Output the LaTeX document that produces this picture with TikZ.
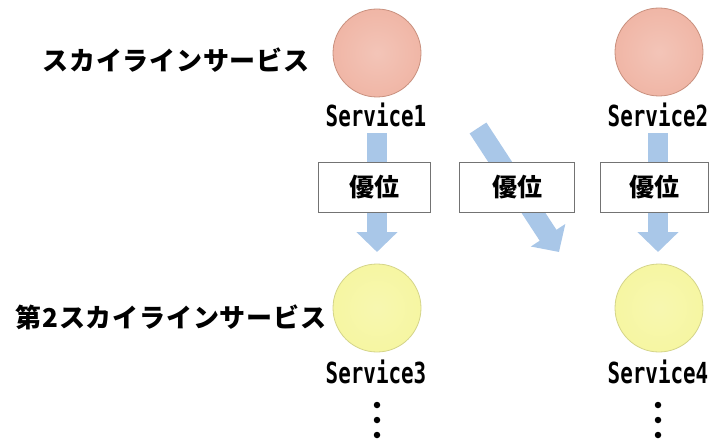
\documentclass[tikz,border=0pt]{standalone}
\usepackage{fontspec}
\newfontfamily\jp{Noto Sans CJK JP}
\newfontfamily\jpsp[LetterSpace=3]{Noto Sans CJK JP}
\newfontfamily\svc[FakeStretch=0.72]{DejaVu Sans Mono}
\usetikzlibrary{arrows.meta}
\definecolor{pinkfill}{HTML}{F0B6A6}
\definecolor{pinkline}{HTML}{C8907E}
\definecolor{yelfill}{HTML}{F6F6A2}
\definecolor{yelline}{HTML}{D4D48A}
\definecolor{arrblue}{HTML}{A9C7E8}
\tikzset{
  svcpink/.style={circle, minimum size=88pt, inner sep=0pt, inner color=pinkfill!80!white, outer color=pinkfill, draw=pinkline, line width=0.8pt},
  svcyel/.style={circle, minimum size=88pt, inner sep=0pt, inner color=yelfill!85!white, outer color=yelfill, draw=yelline, line width=0.8pt},
  svclabel/.style={font=\svc\bfseries\fontsize{29}{29}\selectfont, inner sep=0pt},
  tierlabel/.style={font=\jpsp\bfseries\fontsize{26}{26}\selectfont, inner sep=0pt},
  prefbox/.style={draw=black!55, line width=0.8pt, fill=white, minimum height=50pt, inner sep=0pt, font=\jp\bfseries\fontsize{25}{25}\selectfont},
  bigarr/.style={line width=20pt, draw=arrblue, -{Triangle[length=20pt,width=40pt]}},
  dotmark/.style={circle, fill=black, minimum size=6.5pt, inner sep=0pt}
}
\begin{document}
\begin{tikzpicture}[x=1pt,y=-1pt]
\useasboundingbox (0,0) rectangle (711,441);
% circles
\node[svcpink] (c1) at (377,53) {};
\node[svcpink] (c2) at (659,52) {};
\node[svcyel] (c3) at (377,308) {};
\node[svcyel] (c4) at (659,308) {};
% service labels
\node[svclabel] (s1) at (376,115) {Service1};
\node[svclabel] (s2) at (658,115) {Service2};
\node[svclabel] (s3) at (376,372) {Service3};
\node[svclabel] (s4) at (658,372) {Service4};
% tier labels
\node[tierlabel] (t1) at (176,60) {スカイラインサービス};
\node[tierlabel] (t2) at (171,317) {第2スカイラインサービス};
% arrows
\coordinate (a1s) at (377,133);
\coordinate (a1e) at (377,252);
\coordinate (a2s) at (478,128);
\coordinate (a2e) at (559,252);
\coordinate (a3s) at (658,133);
\coordinate (a3e) at (658,252);
\draw[bigarr] (a1s) -- (a1e);
\draw[bigarr] (a2s) -- (a2e);
\draw[bigarr] (a3s) -- (a3e);
% boxes
\node[prefbox, minimum width=112pt] (b1) at (374,187) {優位};
\node[prefbox, minimum width=115pt] (b2) at (517,187) {優位};
\node[prefbox, minimum width=108pt] (b3) at (654,187) {優位};
% dots
\node[dotmark] (d1a) at (377,405) {};
\node[dotmark] (d1b) at (377,420) {};
\node[dotmark] (d1c) at (377,435) {};
\node[dotmark] (d2a) at (658,405) {};
\node[dotmark] (d2b) at (658,420) {};
\node[dotmark] (d2c) at (658,435) {};
\end{tikzpicture}
\end{document}
